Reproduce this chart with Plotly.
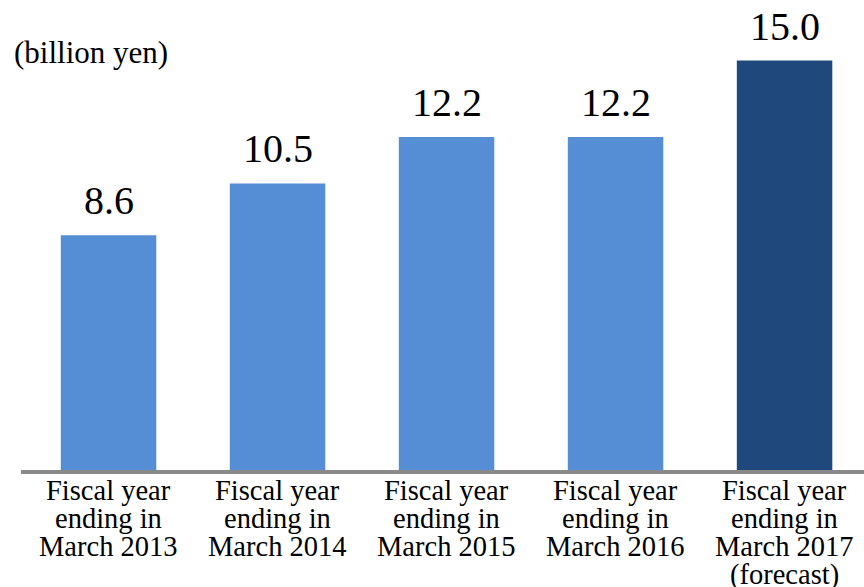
import plotly.graph_objects as go

categories = [
    "Fiscal year<br>ending in<br>March 2013",
    "Fiscal year<br>ending in<br>March 2014",
    "Fiscal year<br>ending in<br>March 2015",
    "Fiscal year<br>ending in<br>March 2016",
    "Fiscal year<br>ending in<br>March 2017<br>(forecast)",
]
values = [8.6, 10.5, 12.2, 12.2, 15.0]
value_labels = ["8.6", "10.5", "12.2", "12.2", "15.0"]
unit_label = "(billion yen)"
bar_colors = ["#558ED5", "#558ED5", "#558ED5", "#558ED5", "#1F497D"]

FONT = "Liberation Serif"

fig = go.Figure()
fig.add_trace(go.Bar(
    x=categories, y=values,
    marker=dict(color=bar_colors, line=dict(width=0)),
    width=0.565,
    hoverinfo="skip",
))

annotations = []
# value labels above bars
for c, v, t in zip(categories, values, value_labels):
    annotations.append(dict(
        x=c, y=v, xref="x", yref="y", text=t, showarrow=False,
        yanchor="bottom", xanchor="center", yshift=10,
        font=dict(family=FONT, size=40, color="#000000"),
    ))
# category labels, one line per annotation for tight line spacing
for c in categories:
    for j, line in enumerate(c.split("<br>")):
        annotations.append(dict(
            x=c, y=0, xref="x", yref="y", text=line, showarrow=False,
            yanchor="top", xanchor="center", yshift=-3 - 28 * j,
            font=dict(family=FONT, size=28.5, color="#000000"),
        ))
# unit label
annotations.append(dict(
    x=0, y=1, xref="paper", yref="paper", text=unit_label, showarrow=False,
    xanchor="left", yanchor="top", xshift=-9, yshift=-33,
    font=dict(family=FONT, size=31, color="#000000"),
))

fig.update_layout(
    width=864, height=587,
    margin=dict(l=21, r=0, t=0, b=117),
    paper_bgcolor="white", plot_bgcolor="white",
    showlegend=False,
    font=dict(family=FONT),
    annotations=annotations,
    xaxis=dict(
        range=[-0.518, 4.47], showticklabels=False, ticks="",
        showline=True, linewidth=4, linecolor="#898989",
        showgrid=False, zeroline=False, fixedrange=True,
    ),
    yaxis=dict(
        range=[0, 17.22], visible=False, showgrid=False, zeroline=False,
        fixedrange=True,
    ),
)

fig.write_html("out.html")
